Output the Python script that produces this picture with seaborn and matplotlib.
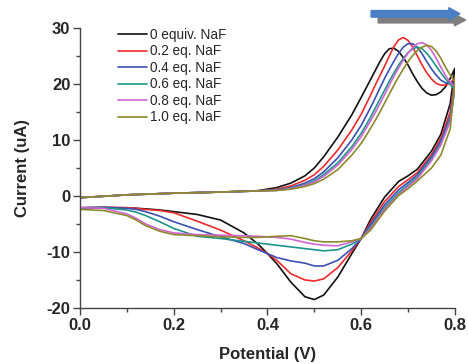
import numpy as np
import pandas as pd
import matplotlib
matplotlib.use("Agg")
import matplotlib.pyplot as plt
from matplotlib.patches import FancyArrow
from matplotlib.ticker import MultipleLocator
import seaborn as sns

# Potential grids (V) for the forward and reverse sweeps
fwd_v = [0, 0.1, 0.2, 0.3, 0.38, 0.42, 0.45, 0.48, 0.5, 0.52, 0.55, 0.58,
         0.60, 0.61, 0.62, 0.63, 0.64, 0.65, 0.66, 0.67, 0.68, 0.69, 0.70,
         0.71, 0.72, 0.73, 0.74, 0.75, 0.76, 0.77, 0.78, 0.79, 0.80]
rev_v = [0.8, 0.79, 0.77, 0.75, 0.72, 0.70, 0.68, 0.65, 0.62, 0.6, 0.58, 0.55,
         0.52, 0.5, 0.48, 0.45, 0.42, 0.4, 0.38, 0.35, 0.3, 0.25, 0.2, 0.17,
         0.14, 0.12, 0.1, 0.05, 0]

labels = ['0 equiv. NaF', '0.2 eq. NaF', '0.4 eq. NaF',
          '0.6 eq. NaF', '0.8 eq. NaF', '1.0 eq. NaF']
colors = ['#111111', '#ee2a2a', '#3c4fb4', '#1b9688', '#d364d3', '#8c8a2a']

# Current (uA), forward sweep
fwd_0 = [-0.3, 0.2, 0.5, 0.7, 0.95, 1.5, 2.3, 3.6, 5.0, 7.0, 10.5, 14.5,
         17.6, 19.2, 20.8, 22.4, 24.0, 25.4, 26.3, 26.4, 25.8, 24.7, 23.4,
         21.8, 20.4, 19.2, 18.4, 18.0, 18.1, 18.6, 19.5, 21.0, 22.8]
fwd_02 = [-0.3, 0.2, 0.5, 0.7, 0.9, 1.2, 1.8, 2.8, 3.8, 5.3, 8.2, 11.8,
          14.6, 16.3, 18.0, 19.8, 21.5, 23.2, 25.0, 26.7, 27.9, 28.3, 27.8,
          26.6, 25.0, 23.4, 22.0, 20.9, 20.1, 19.8, 19.8, 20.2, 21.0]
fwd_04 = [-0.3, 0.2, 0.5, 0.7, 0.9, 1.1, 1.5, 2.3, 3.1, 4.3, 6.8, 10.0,
          12.6, 14.2, 15.8, 17.5, 19.3, 21.0, 22.6, 24.1, 25.5, 26.6, 27.2,
          27.2, 26.5, 25.4, 24.0, 22.7, 21.6, 20.7, 20.2, 20.1, 20.5]
fwd_06 = [-0.3, 0.2, 0.5, 0.7, 0.9, 1.0, 1.4, 2.0, 2.7, 3.8, 5.9, 8.8,
          11.2, 12.6, 14.1, 15.7, 17.3, 18.9, 20.5, 22.0, 23.4, 24.6, 25.6,
          26.3, 26.6, 26.3, 25.5, 24.4, 23.2, 22.0, 20.9, 19.9, 19.0]
fwd_08 = [-0.3, 0.2, 0.5, 0.7, 0.9, 1.0, 1.3, 1.9, 2.5, 3.5, 5.5, 8.3,
          10.6, 12.0, 13.4, 14.9, 16.5, 18.1, 19.8, 21.4, 22.9, 24.3, 25.5,
          26.5, 27.2, 27.4, 27.0, 26.0, 24.6, 23.0, 21.5, 20.3, 19.5]
fwd_10 = [-0.3, 0.2, 0.5, 0.7, 0.9, 1.0, 1.2, 1.7, 2.2, 3.0, 4.7, 7.3,
          9.4, 10.7, 12.1, 13.5, 15.0, 16.6, 18.2, 19.8, 21.3, 22.7, 24.0,
          25.1, 26.0, 26.6, 26.9, 26.7, 25.9, 24.6, 23.0, 21.6, 20.5]

# Current (uA), reverse sweep
rev_0 = [22.8, 16.5, 11.0, 8.0, 4.8, 3.6, 2.6, -0.2, -4.2, -7.6, -10.3, -14.5,
         -17.7, -18.5, -18.0, -15.4, -12.1, -10.3, -8.6, -6.6, -4.3, -3.3, -2.8,
         -2.5, -2.3, -2.2, -2.1, -2.1, -2.3]
rev_02 = [21.0, 15.0, 10.3, 7.4, 4.2, 2.9, 1.7, -1.0, -4.7, -7.6, -9.8, -12.8,
          -14.8, -15.2, -15.0, -13.9, -11.5, -10.3, -9.3, -8.0, -6.1, -4.5, -3.0,
          -2.6, -2.4, -2.2, -2.1, -2.0, -2.1]
rev_04 = [20.5, 14.2, 9.8, 7.0, 3.8, 2.4, 1.1, -1.6, -5.1, -7.6, -9.4, -11.5,
          -12.5, -12.5, -12.0, -11.6, -11.0, -10.3, -9.6, -8.5, -7.3, -6.0, -4.6,
          -3.6, -2.8, -2.4, -2.2, -2.0, -2.1]
rev_06 = [19.0, 13.6, 9.4, 6.6, 3.4, 2.0, 0.6, -2.1, -5.5, -7.6, -8.6, -9.6,
          -9.8, -9.6, -9.4, -9.1, -8.8, -8.6, -8.4, -8.1, -7.6, -7.2, -5.8,
          -4.6, -3.5, -2.9, -2.5, -2.1, -2.1]
rev_08 = [19.5, 13.3, 9.1, 6.3, 3.1, 1.7, 0.3, -2.4, -5.8, -7.6, -8.2, -8.9,
          -8.8, -8.6, -8.3, -7.7, -7.4, -7.3, -7.2, -7.1, -7.0, -6.9, -6.6,
          -6.0, -5.0, -4.0, -3.2, -2.2, -2.1]
rev_10 = [20.5, 12.0, 7.3, 5.0, 2.7, 1.3, 0.1, -2.7, -6.1, -7.6, -8.0, -8.2,
          -8.2, -8.0, -7.6, -7.1, -7.2, -7.3, -7.4, -7.4, -7.3, -7.1, -6.9,
          -6.3, -5.3, -4.3, -3.5, -2.6, -2.4]

fwd_all = [fwd_0, fwd_02, fwd_04, fwd_06, fwd_08, fwd_10]
rev_all = [rev_0, rev_02, rev_04, rev_06, rev_08, rev_10]

sns.set_style("ticks")
plt.rcParams['font.family'] = ['Arial', 'Liberation Sans', 'DejaVu Sans']
plt.rcParams['axes.unicode_minus'] = False

fig = plt.figure(figsize=[4.68, 3.64], dpi=100)
ax = fig.add_axes([0.171, 0.154, 0.801, 0.769])

for lab, col, f, r in zip(labels, colors, fwd_all, rev_all):
    df = pd.DataFrame({'V': fwd_v + rev_v, 'I': f + r})
    sns.lineplot(data=df, x='V', y='I', sort=False, estimator=None,
                 color=col, lw=1.2, label=lab, ax=ax)

ax.set_xlim(0, 0.8)
ax.set_ylim(-20, 30)
ax.xaxis.set_major_locator(MultipleLocator(0.2))
ax.xaxis.set_minor_locator(MultipleLocator(0.1))
ax.yaxis.set_major_locator(MultipleLocator(10))
ax.yaxis.set_minor_locator(MultipleLocator(5))
ax.set_xticklabels([f'{v:.1f}' for v in ax.get_xticks()])
ax.tick_params(which='major', length=5, width=1, color='#444444',
               labelsize=12, pad=2)
ax.tick_params(which='minor', length=3, width=1, color='#444444')
for t in ax.get_xticklabels() + ax.get_yticklabels():
    t.set_fontweight('bold')
for s in ['left', 'bottom']:
    ax.spines[s].set_color('#444444')
    ax.spines[s].set_linewidth(1)
sns.despine(ax=ax)

ax.set_xlabel('Potential (V)', fontsize=12, fontweight='bold', labelpad=10)
ax.set_ylabel('Current (uA)', fontsize=12, fontweight='bold', labelpad=12)

ax.legend(loc='upper left', bbox_to_anchor=(0.1, 1.0), frameon=False,
          fontsize=9.8, labelspacing=0.18, handlelength=2.2,
          handletextpad=0.2, borderaxespad=0, borderpad=0)

# scan-direction arrow with shadow
fig.patches.append(FancyArrow(0.808, 0.945, 0.187, 0, width=0.016,
                              head_width=0.032, head_length=0.024,
                              length_includes_head=True, color='#7f7f7f',
                              transform=fig.transFigure))
fig.patches.append(FancyArrow(0.793, 0.962, 0.19, 0, width=0.018,
                              head_width=0.034, head_length=0.024,
                              length_includes_head=True, color='#4a7fc4',
                              transform=fig.transFigure))

fig.savefig('out.png', dpi=100)
